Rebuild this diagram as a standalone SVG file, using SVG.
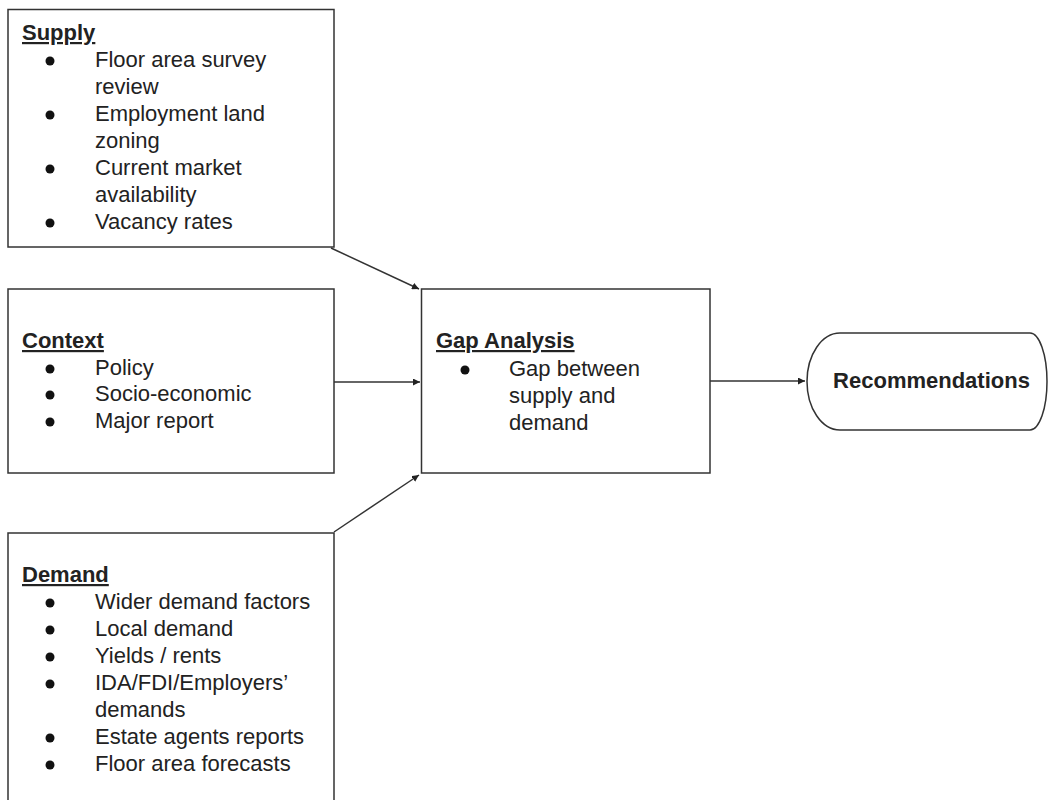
<svg xmlns="http://www.w3.org/2000/svg" width="1048" height="800" viewBox="0 0 1048 800">
<defs>
<style>
.box{fill:#fff;stroke:#333;stroke-width:1.5}
.t{font-family:"Liberation Sans",Arial,sans-serif;font-size:22px;fill:#222}
.h{font-weight:bold;text-decoration:underline}
.b{font-weight:bold}
.bul{fill:#111}
.con{stroke:#333;stroke-width:1.5;fill:none;marker-end:url(#ah)}
</style>
<marker id="ah" viewBox="0 0 10 10" refX="10" refY="5" markerWidth="7" markerHeight="7" orient="auto" markerUnits="userSpaceOnUse">
<path d="M0,0 L10,5 L0,10 z" fill="#222"/>
</marker>
</defs>
<rect width="1048" height="800" fill="#fff"/>
<g id="connectors">
<line class="con" x1="331" y1="248" x2="419" y2="289"/>
<line class="con" x1="334" y1="382" x2="420" y2="382"/>
<line class="con" x1="334" y1="532" x2="419" y2="475"/>
<line class="con" x1="710" y1="381" x2="805" y2="381"/>
</g>
<g id="supply">
<rect class="box" x="8" y="9.5" width="326" height="237.5"/>
<text class="t h" x="22" y="40">Supply</text>
<circle class="bul" cx="50" cy="61" r="4.5"/>
<circle class="bul" cx="50" cy="115" r="4.5"/>
<circle class="bul" cx="50" cy="169" r="4.5"/>
<circle class="bul" cx="50" cy="223" r="4.5"/>
<text class="t" x="95" y="67">Floor area survey</text>
<text class="t" x="95" y="94">review</text>
<text class="t" x="95" y="121">Employment land</text>
<text class="t" x="95" y="148">zoning</text>
<text class="t" x="95" y="175">Current market</text>
<text class="t" x="95" y="202">availability</text>
<text class="t" x="95" y="229">Vacancy rates</text>
</g>
<g id="context">
<rect class="box" x="8" y="289" width="326" height="184"/>
<text class="t h" x="22" y="348">Context</text>
<circle class="bul" cx="50" cy="369" r="4.5"/>
<circle class="bul" cx="50" cy="395" r="4.5"/>
<circle class="bul" cx="50" cy="422" r="4.5"/>
<text class="t" x="95" y="375">Policy</text>
<text class="t" x="95" y="401">Socio-economic</text>
<text class="t" x="95" y="428">Major report</text>
</g>
<g id="gap">
<rect class="box" x="421.5" y="289" width="288.5" height="184"/>
<text class="t h" x="436" y="348">Gap Analysis</text>
<circle class="bul" cx="465" cy="370" r="4.5"/>
<text class="t" x="509" y="376">Gap between</text>
<text class="t" x="509" y="403">supply and</text>
<text class="t" x="509" y="430">demand</text>
</g>
<g id="demand">
<path class="box" d="M8,801 V533 H334 V801"/>
<text class="t h" x="22" y="582">Demand</text>
<circle class="bul" cx="50" cy="603" r="4.5"/>
<circle class="bul" cx="50" cy="630" r="4.5"/>
<circle class="bul" cx="50" cy="657" r="4.5"/>
<circle class="bul" cx="50" cy="684" r="4.5"/>
<circle class="bul" cx="50" cy="738" r="4.5"/>
<circle class="bul" cx="50" cy="765" r="4.5"/>
<text class="t" x="95" y="609">Wider demand factors</text>
<text class="t" x="95" y="636">Local demand</text>
<text class="t" x="95" y="663">Yields / rents</text>
<text class="t" x="95" y="690">IDA/FDI/Employers’</text>
<text class="t" x="95" y="717">demands</text>
<text class="t" x="95" y="744">Estate agents reports</text>
<text class="t" x="95" y="771">Floor area forecasts</text>
</g>
<g id="recommendations">
<path class="box" d="M840,333 H1030 A17,48.5 0 0 1 1030,430 H840 A33,48.5 0 0 1 840,333 Z"/>
<text class="t b" x="931.5" y="388" text-anchor="middle">Recommendations</text>
</g>
</svg>
